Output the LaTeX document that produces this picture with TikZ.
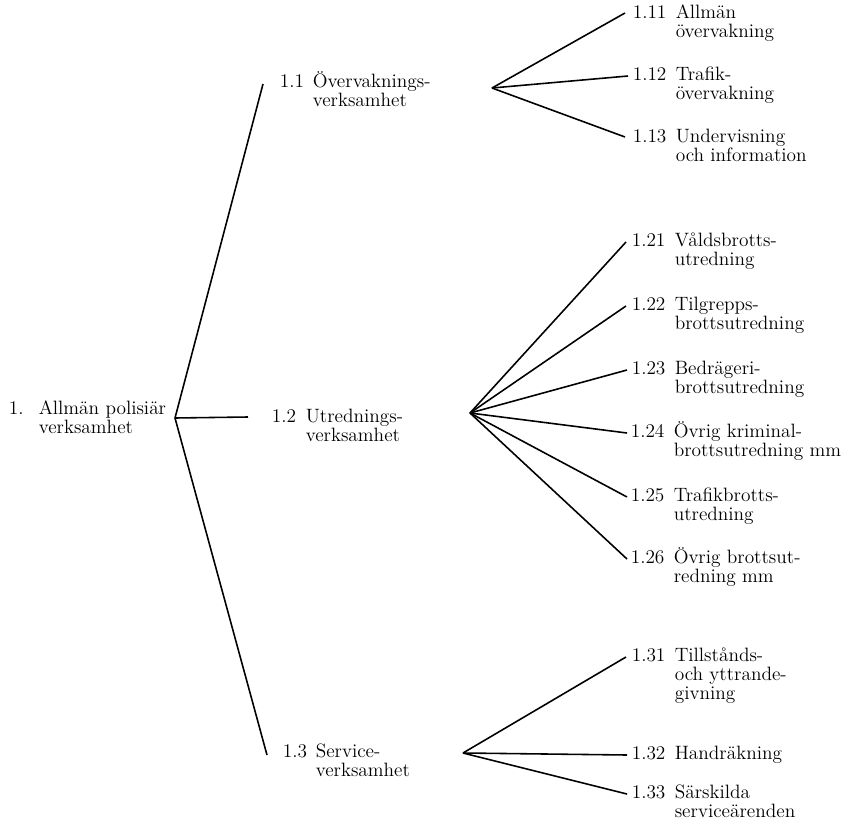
\documentclass[tikz,border=0pt]{standalone}
\usepackage{fontspec}
\newcommand\entry[3]{\begin{tabular}[t]{@{}p{#1}@{}l@{}}#2 & #3\end{tabular}}
\begin{document}
\begin{tikzpicture}[x=0.02cm, y=-0.02cm, line width=0.9pt,
  every node/.style={font=\fontsize{11}{10.8}\selectfont, inner sep=0pt, anchor=base west}]
\useasboundingbox (0,0) rectangle (849,825);
%
\node (top) at (8,414) {\entry{0.6cm}{1.}{Allmän polisiär\\ & verksamhet}};
\coordinate (r) at (175,418);
%
\coordinate (t1) at (263,84);
\coordinate (t2) at (248,417);
\coordinate (t3) at (267,755);
\node (n1) at (279,87) {\entry{0.66cm}{1.1}{Övervaknings-\\ & verksamhet}};
\node (n2) at (271,422) {\entry{0.68cm}{1.2}{Utrednings-\\ & verksamhet}};
\node (n3) at (282,757) {\entry{0.66cm}{1.3}{Service-\\ & verksamhet}};
\draw (r) -- (t1);
\draw (r) -- (t2);
\draw (r) -- (t3);
%
\coordinate (f1) at (492,88);
\coordinate (e11) at (625,13);
\coordinate (e12) at (628,76);
\coordinate (e13) at (625,137);
\node (n11) at (632,18) {\entry{0.86cm}{1.11}{Allmän\\ & övervakning}};
\node (n12) at (632,80) {\entry{0.86cm}{1.12}{Trafik-\\ & övervakning}};
\node (n13) at (632,142) {\entry{0.86cm}{1.13}{Undervisning\\ & och information}};
\draw (f1) -- (e11);
\draw (f1) -- (e12);
\draw (f1) -- (e13);
%
\coordinate (f2) at (470,413);
\coordinate (e21) at (626,242);
\coordinate (e22) at (626,306);
\coordinate (e23) at (627,370);
\coordinate (e24) at (627,433);
\coordinate (e25) at (627,497);
\coordinate (e26) at (627,559);
\node (n21) at (631,246) {\entry{0.86cm}{1.21}{Våldsbrotts-\\ & utredning}};
\node (n22) at (631,310) {\entry{0.86cm}{1.22}{Tilgrepps-\\ & brottsutredning}};
\node (n23) at (631,374) {\entry{0.86cm}{1.23}{Bedrägeri-\\ & brottsutredning}};
\node (n24) at (630,437) {\entry{0.86cm}{1.24}{Övrig kriminal-\\ & brottsutredning mm}};
\node (n25) at (630,501) {\entry{0.86cm}{1.25}{Trafikbrotts-\\ & utredning}};
\node (n26) at (630,563) {\entry{0.86cm}{1.26}{Övrig brottsut-\\ & redning mm}};
\draw (f2) -- (e21);
\draw (f2) -- (e22);
\draw (f2) -- (e23);
\draw (f2) -- (e24);
\draw (f2) -- (e25);
\draw (f2) -- (e26);
%
\coordinate (f3) at (463,753);
\coordinate (e31) at (626,657);
\coordinate (e32) at (627,755);
\coordinate (e33) at (627,794);
\node (n31) at (631,661) {\entry{0.86cm}{1.31}{Tillstånds-\\ & och yttrande-\\ & givning}};
\node (n32) at (631,759) {\entry{0.86cm}{1.32}{Handräkning}};
\node (n33) at (631,798) {\entry{0.86cm}{1.33}{Särskilda\\ & serviceärenden}};
\draw (f3) -- (e31);
\draw (f3) -- (e32);
\draw (f3) -- (e33);
%
\end{tikzpicture}
\end{document}
